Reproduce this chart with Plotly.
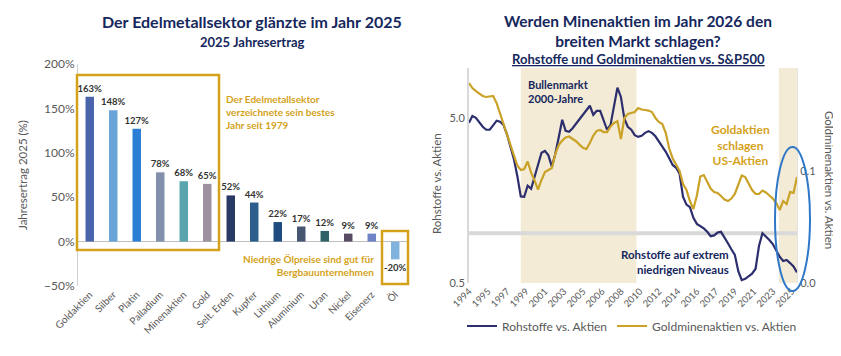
import plotly.graph_objects as go
import pandas as pd

# ---------------- Left chart data ----------------
categories = ["Goldaktien", "Silber", "Platin", "Palladium", "Minenaktien", "Gold",
              "Selt. Erden", "Kupfer", "Lithium", "Aluminium", "Uran", "Nickel",
              "Eisenerz", "Öl"]
returns_2025 = [163, 148, 127, 78, 68, 65, 52, 44, 22, 17, 12, 9, 9, -20]
bar_colors = ["#4A64AC", "#68A4D8", "#2B7DD6", "#8390AB", "#5AA5AD", "#9D919F",
              "#2A3A66", "#2B5E8C", "#1E4C80", "#465670", "#2E6266", "#574C64",
              "#6D83C4", "#7FB3DE"]

# ---------------- Right chart data ----------------
dates = pd.date_range("1994-01-01", periods=96, freq="4MS")
rohstoffe_vs_aktien = [
    4.66, 5.12, 5.00, 4.66, 4.41, 4.23, 4.23, 4.50, 4.80, 4.73,
    4.53, 3.97, 3.35, 2.82, 2.22, 1.67, 1.66, 1.94, 1.86, 2.22,
    2.67, 3.07, 3.15, 2.96, 2.53, 3.02, 3.81, 4.86, 4.17, 4.11,
    4.32, 4.60, 4.86, 5.17, 5.51, 5.91, 5.21, 5.51, 5.51, 4.86,
    4.23, 4.53, 5.75, 7.60, 6.68, 4.93, 4.41, 4.23, 3.92, 3.83,
    3.89, 4.05, 4.15, 4.05, 3.86, 3.59, 3.38, 3.11, 2.84, 2.59,
    2.49, 2.29, 1.66, 1.49, 1.44, 1.24, 1.14, 1.11, 1.07, 1.02,
    0.96, 0.97, 1.01, 1.02, 0.95, 0.87, 0.80, 0.74, 0.59, 0.52,
    0.53, 0.55, 0.57, 0.61, 0.84, 1.00, 0.96, 0.91, 0.86, 0.78,
    0.72, 0.68, 0.69, 0.66, 0.63, 0.58]
goldminen_vs_aktien = [
    0.1786, 0.1741, 0.1714, 0.1691, 0.1670, 0.1661, 0.1665, 0.1670, 0.1607, 0.1514,
    0.1420, 0.1335, 0.1241, 0.1143, 0.1049, 0.1009, 0.1018, 0.1085, 0.0986, 0.0915,
    0.0835, 0.0920, 0.0991, 0.1009, 0.1027, 0.1152, 0.1232, 0.1272, 0.1299, 0.1308,
    0.1289, 0.1266, 0.1236, 0.1208, 0.1196, 0.1250, 0.1317, 0.1357, 0.1366, 0.1348,
    0.1348, 0.1397, 0.1429, 0.1446, 0.1286, 0.1473, 0.1509, 0.1518, 0.1527, 0.1563,
    0.1549, 0.1545, 0.1540, 0.1527, 0.1473, 0.1438, 0.1420, 0.1339, 0.1201, 0.1112,
    0.1058, 0.1000, 0.0884, 0.0830, 0.0732, 0.0661, 0.0781, 0.0951, 0.0964, 0.0897,
    0.0844, 0.0813, 0.0804, 0.0777, 0.0746, 0.0732, 0.0754, 0.0795, 0.0879, 0.0960,
    0.0946, 0.0884, 0.0830, 0.0795, 0.0795, 0.0826, 0.0808, 0.0781, 0.0754, 0.0714,
    0.0652, 0.0732, 0.0705, 0.0813, 0.0804, 0.0946]
tick_dates = pd.date_range("1994-01-01", periods=18, freq="22MS")
reference_level = 1.0
bull_period = ("1999-01-01", "2010-03-01")
recent_period = ("2023-12-01", "2025-09-01")

# ---------------- Styling ----------------
W, H = 841, 356
OFF = 8  # page body margin
FONT = "Lato"
NAVY_T = "#15275C"
GOLD = "#D4A21A"
GRAY = "#595959"
NAVY_L = "#2C2E6E"
GOLD_L = "#C9A227"


def px(x):
    return (x - OFF) / W


def py(y):
    return 1 - (y - OFF) / H


fig = go.Figure()

# Left bars
fig.add_trace(go.Bar(
    x=categories, y=returns_2025, marker_color=bar_colors, width=0.36,
    text=[f"{v}%" for v in returns_2025], textposition="outside",
    constraintext="none",
    textfont=dict(family=FONT, size=9.5, color="#333333", weight="bold"),
    cliponaxis=False, showlegend=False, xaxis="x", yaxis="y", hoverinfo="skip"))

# Right chart: reference line at 1.0
fig.add_trace(go.Scatter(
    x=[dates[0], dates[-1]], y=[reference_level, reference_level], mode="lines",
    line=dict(color="#D9D9D9", width=4), showlegend=False, xaxis="x2", yaxis="y2",
    hoverinfo="skip"))
fig.add_trace(go.Scatter(
    x=dates, y=rohstoffe_vs_aktien, mode="lines", name="Rohstoffe vs. Aktien",
    line=dict(color=NAVY_L, width=2.2), xaxis="x2", yaxis="y2"))
fig.add_trace(go.Scatter(
    x=dates, y=goldminen_vs_aktien, mode="lines", name="Goldminenaktien vs. Aktien",
    line=dict(color=GOLD_L, width=2.2), xaxis="x2", yaxis="y3"))

shapes = []
for start, end in (bull_period, recent_period):
    shapes.append(dict(type="rect", xref="x2", yref="y2 domain", x0=start, x1=end,
                       y0=0, y1=1, fillcolor="#F3EBD5", line=dict(width=0),
                       layer="below"))
# gold boxes on left chart
shapes.append(dict(type="rect", xref="paper", yref="paper", x0=px(77), x1=px(219),
                   y0=py(250), y1=py(75), line=dict(color=GOLD, width=2.5)))
shapes.append(dict(type="rect", xref="paper", yref="paper", x0=px(382), x1=px(408),
                   y0=py(284), y1=py(231), line=dict(color=GOLD, width=2.5)))
# blue ellipse
shapes.append(dict(type="circle", xref="paper", yref="paper", x0=px(775), x1=px(810),
                   y0=py(291), y1=py(147), line=dict(color="#2F78C8", width=2)))

annotations = [
    dict(text="<b>Der Edelmetallsektor glänzte im Jahr 2025</b>", x=px(252), y=py(21),
         font=dict(family=FONT, size=16, color=NAVY_T)),
    dict(text="<b>2025 Jahresertrag</b>", x=px(252), y=py(42),
         font=dict(family=FONT, size=13, color=NAVY_T)),
    dict(text="Jahresertrag 2025 (%)", x=px(22), y=py(175), textangle=-90,
         font=dict(family=FONT, size=11.5, color=GRAY)),
    dict(text="<b>Der Edelmetallsektor<br>verzeichnete sein bestes<br>Jahr seit 1979</b>",
         x=px(224), y=py(91), xanchor="left", yanchor="top", align="left",
         font=dict(family=FONT, size=10, color=GOLD)),
    dict(text="<b>Niedrige Ölpreise sind gut für<br>Bergbauunternehmen</b>",
         x=px(376), y=py(251), xanchor="right", yanchor="top", align="right",
         font=dict(family=FONT, size=10, color=GOLD)),
    dict(text="<b>Werden Minenaktien im Jahr 2026 den<br>breiten Markt schlagen?</b>",
         x=px(638), y=py(31), font=dict(family=FONT, size=15.5, color=NAVY_T)),
    dict(text="<b>Rohstoffe und Goldminenaktien vs. S&P500</b>", x=px(638), y=py(59),
         font=dict(family=FONT, size=13, color=NAVY_T, lineposition="under")),
    dict(text="Rohstoffe vs. Aktien", x=px(436), y=py(184), textangle=-90,
         font=dict(family=FONT, size=11.5, color=GRAY)),
    dict(text="Goldminenaktien vs. Aktien", x=px(830), y=py(180), textangle=90,
         font=dict(family=FONT, size=11.5, color=GRAY)),
    dict(text="<b>Bullenmarkt<br>2000-Jahre</b>", x=px(526), y=py(76), xanchor="left",
         yanchor="top", align="left", font=dict(family=FONT, size=11, color=NAVY_T)),
    dict(text="<b>Goldaktien<br>schlagen<br>US-Aktien</b>", x=px(740), y=py(120),
         yanchor="top", align="center", font=dict(family=FONT, size=12, color=GOLD)),
    dict(text="<b>Rohstoffe auf extrem<br>niedrigen Niveaus</b>", x=px(731), y=py(246),
         xanchor="right", yanchor="top", align="right",
         font=dict(family=FONT, size=11.5, color=NAVY_T)),
]
for a in annotations:
    a.setdefault("xref", "paper")
    a.setdefault("yref", "paper")
    a.setdefault("xanchor", "center")
    a.setdefault("yanchor", "middle")
    a.setdefault("showarrow", False)

fig.update_layout(
    template="none",
    width=W, height=H, margin=dict(l=0, r=0, t=0, b=0, autoexpand=False),
    paper_bgcolor="white", plot_bgcolor="rgba(0,0,0,0)",
    font=dict(family=FONT, color=GRAY),
    bargap=0.6,
    xaxis=dict(domain=[px(78), px(407)], tickangle=-45, showline=False, showgrid=False,
               tickfont=dict(size=10, color=GRAY), ticks="", fixedrange=True,
               automargin=False, zeroline=False),
    yaxis=dict(domain=[py(286), py(64)], range=[-50, 200], dtick=50, ticksuffix="%",
               showgrid=False, zeroline=True, zerolinecolor="#BFBFBF", zerolinewidth=1,
               showline=True, linecolor="#D0D0D0", linewidth=1, automargin=False,
               tickfont=dict(size=12, color=GRAY), ticks=""),
    xaxis2=dict(domain=[px(469), px(797)], type="date",
                range=[dates[0], dates[-1]], tickvals=list(tick_dates), tickformat="%Y",
                tickangle=-45, tickfont=dict(size=9.5, color=GRAY), showgrid=False,
                showline=False, ticks="", anchor="y2", automargin=False, zeroline=False),
    yaxis2=dict(domain=[py(283), py(68)], type="log", range=[-0.30103, 1.0],
                tickvals=[0.5, 5], ticktext=["0.5", "5.0"], showgrid=False,
                showline=True, linecolor="#D9D9D9", linewidth=2, ticks="",
                tickfont=dict(size=11, color=GRAY), anchor="x2", zeroline=False,
                automargin=False),
    yaxis3=dict(overlaying="y2", side="right", range=[0, 0.192],
                tickvals=[0, 0.1], ticktext=["0.0", "0.1"], showgrid=False,
                showline=True, linecolor="#E3E3E3", linewidth=1, ticks="",
                tickfont=dict(size=11, color=GRAY), anchor="x2", zeroline=False,
                automargin=False),
    legend=dict(orientation="h", x=px(632), y=py(326), xanchor="center",
                yanchor="middle", font=dict(size=12, color=GRAY),
                bgcolor="rgba(0,0,0,0)"),
    shapes=shapes, annotations=annotations,
)

fig.write_html("out.html")
